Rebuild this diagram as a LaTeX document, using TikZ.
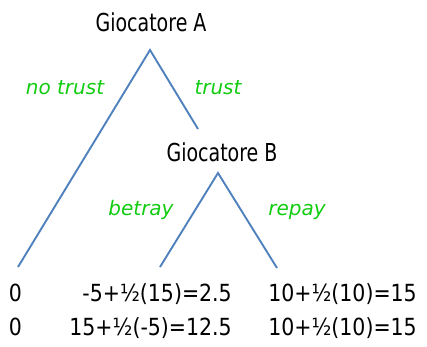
\documentclass[tikz,border=0pt]{standalone}
\usepackage{fontspec}
\usepackage{graphicx}
\setmainfont{DejaVu Sans}
\definecolor{branch}{HTML}{4F81BD}
\definecolor{lbl}{HTML}{11CC11}
\newcommand{\tallA}[1]{\scalebox{1}[1.3]{#1}}
\newcommand{\tallB}[1]{\scalebox{1}[1.15]{#1}}
\begin{document}
\begin{tikzpicture}[x=1pt,y=-1pt,
  branchline/.style={draw=branch,line width=1.9pt},
  player/.style={font=\fontsize{19}{22}\selectfont,inner sep=0pt,anchor=base},
  move/.style={font=\fontsize{20}{22}\selectfont\itshape,text=lbl,inner sep=0pt,anchor=base},
  pay/.style={font=\fontsize{20.5}{22}\selectfont,inner sep=0pt,anchor=base east}]
\useasboundingbox (0,0) rectangle (427,346);
\node[player] (pA) at (151,31) {\tallA{Giocatore A}};
\coordinate (a) at (150,50);
\coordinate (nt) at (18,267);
\coordinate (t) at (198,129);
\node[player] (pB) at (222,161) {\tallA{Giocatore B}};
\coordinate (b) at (218,173);
\coordinate (bl) at (160,267);
\coordinate (br) at (277,268);
\draw[branchline] (nt) -- (a) -- (t);
\draw[branchline] (bl) -- (b) -- (br);
\node[move] (lnt) at (65,94) {no trust};
\node[move] (lt) at (218,94) {trust};
\node[move] (lbt) at (141,215) {betray};
\node[move] (lrp) at (297,215) {repay};
\node[pay] (p11) at (22,301) {\tallB{0}};
\node[pay] (p12) at (232,301) {\tallB{-5+½(15)=2.5}};
\node[pay] (p13) at (417,301) {\tallB{10+½(10)=15}};
\node[pay] (p21) at (22,335) {\tallB{0}};
\node[pay] (p22) at (232,335) {\tallB{15+½(-5)=12.5}};
\node[pay] (p23) at (417,335) {\tallB{10+½(10)=15}};
\end{tikzpicture}
\end{document}
